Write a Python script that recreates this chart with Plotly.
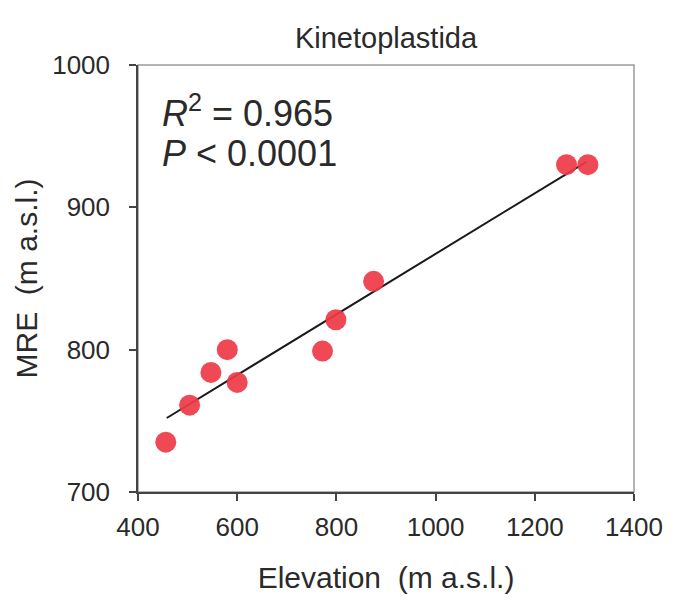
import plotly.graph_objects as go

# Data
elevation = [456, 504, 547, 580, 600, 772, 799, 875, 1264, 1307]
mre = [735, 761, 784, 800, 777, 799, 821, 848, 930, 930]
fit_x = [458, 1304]
fit_y = [752, 932]
x_ticks = [400, 600, 800, 1000, 1200, 1400]
y_ticks = [700, 800, 900, 1000]

FONT = "Arial, Liberation Sans, sans-serif"
TXT = "#2a2a2a"
AX = "#444444"

fig = go.Figure()
fig.add_trace(go.Scatter(
    x=fit_x, y=fit_y, mode="lines",
    line=dict(color="#1a1a1a", width=2), showlegend=False, hoverinfo="skip"))
fig.add_trace(go.Scatter(
    x=elevation, y=mre, mode="markers",
    marker=dict(size=21, color="rgba(238,58,70,0.92)", line=dict(width=0)),
    showlegend=False))

fig.add_shape(type="rect", xref="x domain", yref="y domain",
              x0=0, x1=1, y0=0, y1=1, line=dict(color="#9a9a9a", width=1.5),
              layer="below")

fig.update_layout(
    width=675, height=602,
    margin=dict(l=138, r=35, t=65, b=110),
    paper_bgcolor="white", plot_bgcolor="white",
    font=dict(family=FONT, color=TXT),
    title=dict(text="Kinetoplastida", x=0.5, xref="paper", xanchor="center",
               y=1 - 38 / 602, yref="container", yanchor="middle",
               font=dict(size=29, color=TXT)),
    xaxis=dict(range=[400, 1400], tickvals=x_ticks, ticks="outside", ticklen=7,
               tickcolor=AX, tickwidth=1.5, showline=True, linecolor=AX, linewidth=1.5,
               showgrid=False, zeroline=False, tickfont=dict(size=26, color=TXT),
               ticklabelstandoff=4,
               title=dict(text="Elevation  (m a.s.l.)", font=dict(size=30, color=TXT),
                          standoff=26)),
    yaxis=dict(range=[700, 1000], tickvals=y_ticks, ticks="outside", ticklen=7,
               tickcolor=AX, tickwidth=1.5, showline=True, linecolor=AX, linewidth=1.5,
               showgrid=False, zeroline=False, tickfont=dict(size=26, color=TXT),
               ticklabelstandoff=14,
               title=dict(text="MRE  (m a.s.l.)", font=dict(size=30, color=TXT),
                          standoff=6)),
)

fig.add_annotation(x=444, y=968, xref="x", yref="y", xanchor="left", yanchor="middle",
                   text="<i>R</i><sup>2</sup> = 0.965", showarrow=False,
                   font=dict(size=36, color=TXT))
fig.add_annotation(x=444, y=938, xref="x", yref="y", xanchor="left", yanchor="middle",
                   text="<i>P</i> < 0.0001", showarrow=False,
                   font=dict(size=36, color=TXT))

fig.write_html("out.html")
